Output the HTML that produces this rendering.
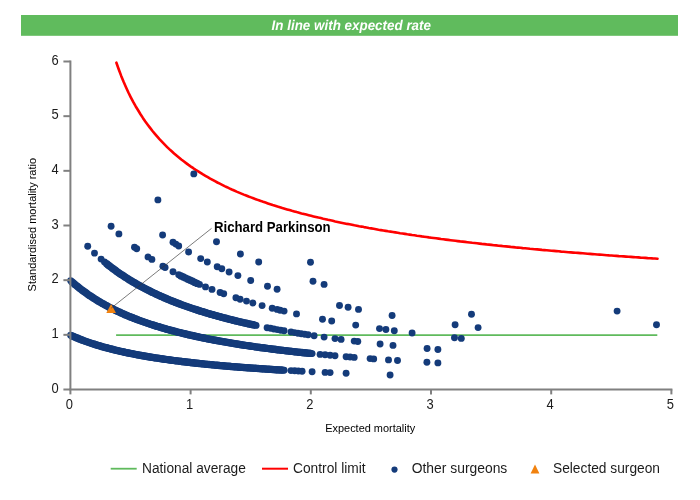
<!DOCTYPE html>
<html><head><meta charset="utf-8"><title>Funnel plot</title>
<style>
html,body{margin:0;padding:0;background:#fff;}
svg{display:block;font-family:"Liberation Sans",sans-serif;will-change:transform;}
</style></head><body>
<svg width="700" height="500" viewBox="0 0 700 500">
<rect x="0" y="0" width="700" height="500" fill="#fff"/>
<rect x="21" y="15" width="657" height="20.8" fill="#60bb5d"/>
<text x="271.6" y="29.5" textLength="159.4" lengthAdjust="spacingAndGlyphs" text-rendering="geometricPrecision" font-size="14" font-weight="bold" font-style="italic" fill="#fff">In line with expected rate</text>
<g font-size="14" fill="#1c1c1c"><text x="51.6" y="392.6" textLength="7.2" lengthAdjust="spacingAndGlyphs">0</text><text x="51.6" y="337.9" textLength="7.2" lengthAdjust="spacingAndGlyphs">1</text><text x="51.6" y="283.3" textLength="7.2" lengthAdjust="spacingAndGlyphs">2</text><text x="51.6" y="228.6" textLength="7.2" lengthAdjust="spacingAndGlyphs">3</text><text x="51.6" y="173.9" textLength="7.2" lengthAdjust="spacingAndGlyphs">4</text><text x="51.6" y="119.3" textLength="7.2" lengthAdjust="spacingAndGlyphs">5</text><text x="51.6" y="64.6" textLength="7.2" lengthAdjust="spacingAndGlyphs">6</text><text x="65.8" y="409.2" textLength="7.2" lengthAdjust="spacingAndGlyphs">0</text><text x="186.0" y="409.2" textLength="7.2" lengthAdjust="spacingAndGlyphs">1</text><text x="306.2" y="409.2" textLength="7.2" lengthAdjust="spacingAndGlyphs">2</text><text x="426.4" y="409.2" textLength="7.2" lengthAdjust="spacingAndGlyphs">3</text><text x="546.6" y="409.2" textLength="7.2" lengthAdjust="spacingAndGlyphs">4</text><text x="666.8" y="409.2" textLength="7.2" lengthAdjust="spacingAndGlyphs">5</text></g>
<g font-size="11" fill="#000">
<text x="325.2" y="431.6" textLength="90" lengthAdjust="spacingAndGlyphs" >Expected mortality</text>
<text transform="translate(36.3,291.4) rotate(-90)" textLength="133.4" lengthAdjust="spacingAndGlyphs">Standardised mortality ratio</text>
</g>
<line x1="116.1" y1="335.1" x2="657.3" y2="335.1" stroke="#5fba5c" stroke-width="1.8"/>
<path d="M116.4,62.7 L118.8,69.5 L121.2,75.9 L123.6,81.8 L126.0,87.3 L128.4,92.5 L130.8,97.3 L133.2,101.9 L135.6,106.2 L138.1,110.3 L140.5,114.2 L142.9,117.9 L145.3,121.4 L147.7,124.7 L150.1,127.9 L152.5,131.0 L154.9,133.9 L157.3,136.7 L159.7,139.4 L162.1,141.9 L164.5,144.4 L166.9,146.8 L169.3,149.1 L171.7,151.3 L174.1,153.5 L176.5,155.5 L178.9,157.5 L181.3,159.5 L183.7,161.3 L186.1,163.1 L188.5,164.9 L190.9,166.6 L193.3,168.2 L195.7,169.9 L198.2,171.4 L200.6,172.9 L203.0,174.4 L205.4,175.8 L207.8,177.2 L210.2,178.6 L212.6,179.9 L215.0,181.2 L217.4,182.5 L219.8,183.7 L222.2,184.9 L224.6,186.1 L227.0,187.2 L229.4,188.4 L231.8,189.5 L234.2,190.5 L236.6,191.6 L239.0,192.6 L241.4,193.6 L243.8,194.6 L246.2,195.5 L248.6,196.5 L251.0,197.4 L253.4,198.3 L255.8,199.2 L258.3,200.1 L260.7,200.9 L263.1,201.8 L265.5,202.6 L267.9,203.4 L270.3,204.2 L272.7,205.0 L275.1,205.7 L277.5,206.5 L279.9,207.2 L282.3,208.0 L284.7,208.7 L287.1,209.4 L289.5,210.1 L291.9,210.8 L294.3,211.4 L296.7,212.1 L299.1,212.7 L301.5,213.4 L303.9,214.0 L306.3,214.6 L308.7,215.2 L311.1,215.8 L313.5,216.4 L315.9,217.0 L318.4,217.6 L320.8,218.1 L323.2,218.7 L325.6,219.2 L328.0,219.8 L330.4,220.3 L332.8,220.8 L335.2,221.4 L337.6,221.9 L340.0,222.4 L342.4,222.9 L344.8,223.4 L347.2,223.9 L349.6,224.3 L352.0,224.8 L354.4,225.3 L356.8,225.7 L359.2,226.2 L361.6,226.6 L364.0,227.1 L366.4,227.5 L368.8,228.0 L371.2,228.4 L373.6,228.8 L376.0,229.2 L378.5,229.7 L380.9,230.1 L383.3,230.5 L385.7,230.9 L388.1,231.3 L390.5,231.6 L392.9,232.0 L395.3,232.4 L397.7,232.8 L400.1,233.2 L402.5,233.5 L404.9,233.9 L407.3,234.3 L409.7,234.6 L412.1,235.0 L414.5,235.3 L416.9,235.7 L419.3,236.0 L421.7,236.4 L424.1,236.7 L426.5,237.0 L428.9,237.4 L431.3,237.7 L433.7,238.0 L436.1,238.3 L438.6,238.6 L441.0,239.0 L443.4,239.3 L445.8,239.6 L448.2,239.9 L450.6,240.2 L453.0,240.5 L455.4,240.8 L457.8,241.1 L460.2,241.4 L462.6,241.6 L465.0,241.9 L467.4,242.2 L469.8,242.5 L472.2,242.8 L474.6,243.0 L477.0,243.3 L479.4,243.6 L481.8,243.9 L484.2,244.1 L486.6,244.4 L489.0,244.6 L491.4,244.9 L493.8,245.2 L496.2,245.4 L498.7,245.7 L501.1,245.9 L503.5,246.2 L505.9,246.4 L508.3,246.6 L510.7,246.9 L513.1,247.1 L515.5,247.4 L517.9,247.6 L520.3,247.8 L522.7,248.1 L525.1,248.3 L527.5,248.5 L529.9,248.8 L532.3,249.0 L534.7,249.2 L537.1,249.4 L539.5,249.6 L541.9,249.9 L544.3,250.1 L546.7,250.3 L549.1,250.5 L551.5,250.7 L553.9,250.9 L556.3,251.1 L558.8,251.3 L561.2,251.6 L563.6,251.8 L566.0,252.0 L568.4,252.2 L570.8,252.4 L573.2,252.6 L575.6,252.8 L578.0,252.9 L580.4,253.1 L582.8,253.3 L585.2,253.5 L587.6,253.7 L590.0,253.9 L592.4,254.1 L594.8,254.3 L597.2,254.5 L599.6,254.6 L602.0,254.8 L604.4,255.0 L606.8,255.2 L609.2,255.4 L611.6,255.5 L614.0,255.7 L616.4,255.9 L618.9,256.1 L621.3,256.2 L623.7,256.4 L626.1,256.6 L628.5,256.8 L630.9,256.9 L633.3,257.1 L635.7,257.3 L638.1,257.4 L640.5,257.6 L642.9,257.7 L645.3,257.9 L647.7,258.1 L650.1,258.2 L652.5,258.4 L654.9,258.5 L657.5,258.7" stroke="#ff0000" stroke-width="2.6" fill="none" stroke-linejoin="round" stroke-linecap="round"/>
<g fill="#143b7a"><circle cx="70.6" cy="335.2" r="3.45"/><circle cx="72.0" cy="335.9" r="3.7"/><circle cx="73.5" cy="336.5" r="3.7"/><circle cx="74.9" cy="337.1" r="3.7"/><circle cx="76.4" cy="337.7" r="3.7"/><circle cx="77.8" cy="338.3" r="3.7"/><circle cx="79.3" cy="338.9" r="3.7"/><circle cx="80.7" cy="339.5" r="3.7"/><circle cx="82.1" cy="340.0" r="3.7"/><circle cx="83.6" cy="340.6" r="3.7"/><circle cx="85.0" cy="341.1" r="3.7"/><circle cx="86.5" cy="341.6" r="3.7"/><circle cx="87.9" cy="342.1" r="3.7"/><circle cx="89.4" cy="342.6" r="3.7"/><circle cx="90.8" cy="343.1" r="3.7"/><circle cx="92.2" cy="343.6" r="3.7"/><circle cx="93.7" cy="344.0" r="3.7"/><circle cx="95.1" cy="344.5" r="3.7"/><circle cx="96.6" cy="344.9" r="3.7"/><circle cx="98.0" cy="345.4" r="3.7"/><circle cx="99.4" cy="345.8" r="3.7"/><circle cx="100.9" cy="346.2" r="3.7"/><circle cx="102.3" cy="346.7" r="3.7"/><circle cx="103.8" cy="347.1" r="3.7"/><circle cx="105.2" cy="347.5" r="3.7"/><circle cx="106.7" cy="347.8" r="3.7"/><circle cx="108.1" cy="348.2" r="3.7"/><circle cx="109.5" cy="348.6" r="3.7"/><circle cx="111.0" cy="349.0" r="3.7"/><circle cx="112.4" cy="349.3" r="3.7"/><circle cx="113.9" cy="349.7" r="3.7"/><circle cx="115.3" cy="350.1" r="3.7"/><circle cx="116.8" cy="350.4" r="3.7"/><circle cx="118.2" cy="350.7" r="3.7"/><circle cx="119.6" cy="351.1" r="3.7"/><circle cx="121.1" cy="351.4" r="3.7"/><circle cx="122.5" cy="351.7" r="3.7"/><circle cx="124.0" cy="352.0" r="3.7"/><circle cx="125.4" cy="352.4" r="3.7"/><circle cx="126.9" cy="352.7" r="3.7"/><circle cx="128.3" cy="353.0" r="3.7"/><circle cx="129.7" cy="353.3" r="3.7"/><circle cx="131.2" cy="353.6" r="3.7"/><circle cx="132.6" cy="353.8" r="3.7"/><circle cx="134.1" cy="354.1" r="3.7"/><circle cx="135.5" cy="354.4" r="3.7"/><circle cx="137.0" cy="354.7" r="3.7"/><circle cx="138.4" cy="354.9" r="3.7"/><circle cx="139.8" cy="355.2" r="3.7"/><circle cx="141.3" cy="355.5" r="3.7"/><circle cx="142.7" cy="355.7" r="3.7"/><circle cx="144.2" cy="356.0" r="3.7"/><circle cx="145.6" cy="356.2" r="3.7"/><circle cx="147.0" cy="356.5" r="3.7"/><circle cx="148.5" cy="356.7" r="3.7"/><circle cx="149.9" cy="357.0" r="3.7"/><circle cx="151.4" cy="357.2" r="3.7"/><circle cx="152.8" cy="357.4" r="3.7"/><circle cx="154.3" cy="357.7" r="3.7"/><circle cx="155.7" cy="357.9" r="3.7"/><circle cx="157.1" cy="358.1" r="3.7"/><circle cx="158.6" cy="358.3" r="3.7"/><circle cx="160.0" cy="358.6" r="3.7"/><circle cx="161.5" cy="358.8" r="3.7"/><circle cx="162.9" cy="359.0" r="3.7"/><circle cx="164.4" cy="359.2" r="3.7"/><circle cx="165.8" cy="359.4" r="3.7"/><circle cx="167.2" cy="359.6" r="3.7"/><circle cx="168.7" cy="359.8" r="3.7"/><circle cx="170.1" cy="360.0" r="3.7"/><circle cx="171.6" cy="360.2" r="3.7"/><circle cx="173.0" cy="360.4" r="3.7"/><circle cx="174.5" cy="360.6" r="3.7"/><circle cx="175.9" cy="360.8" r="3.7"/><circle cx="177.3" cy="360.9" r="3.7"/><circle cx="178.8" cy="361.1" r="3.7"/><circle cx="180.2" cy="361.3" r="3.7"/><circle cx="181.7" cy="361.5" r="3.7"/><circle cx="183.1" cy="361.7" r="3.7"/><circle cx="184.5" cy="361.8" r="3.7"/><circle cx="186.0" cy="362.0" r="3.7"/><circle cx="187.4" cy="362.2" r="3.7"/><circle cx="188.9" cy="362.3" r="3.7"/><circle cx="190.3" cy="362.5" r="3.7"/><circle cx="191.8" cy="362.7" r="3.7"/><circle cx="193.2" cy="362.8" r="3.7"/><circle cx="194.6" cy="363.0" r="3.7"/><circle cx="196.1" cy="363.2" r="3.7"/><circle cx="197.5" cy="363.3" r="3.7"/><circle cx="199.0" cy="363.5" r="3.7"/><circle cx="200.4" cy="363.6" r="3.7"/><circle cx="201.9" cy="363.8" r="3.7"/><circle cx="203.3" cy="363.9" r="3.7"/><circle cx="204.7" cy="364.1" r="3.7"/><circle cx="206.2" cy="364.2" r="3.7"/><circle cx="207.6" cy="364.4" r="3.7"/><circle cx="209.1" cy="364.5" r="3.7"/><circle cx="210.5" cy="364.6" r="3.7"/><circle cx="212.0" cy="364.8" r="3.7"/><circle cx="213.4" cy="364.9" r="3.7"/><circle cx="214.8" cy="365.1" r="3.7"/><circle cx="216.3" cy="365.2" r="3.7"/><circle cx="217.7" cy="365.3" r="3.7"/><circle cx="219.2" cy="365.5" r="3.7"/><circle cx="220.6" cy="365.6" r="3.7"/><circle cx="222.1" cy="365.7" r="3.7"/><circle cx="223.5" cy="365.8" r="3.7"/><circle cx="224.9" cy="366.0" r="3.7"/><circle cx="226.4" cy="366.1" r="3.7"/><circle cx="227.8" cy="366.2" r="3.7"/><circle cx="229.3" cy="366.3" r="3.7"/><circle cx="230.7" cy="366.5" r="3.7"/><circle cx="232.1" cy="366.6" r="3.7"/><circle cx="233.6" cy="366.7" r="3.7"/><circle cx="235.0" cy="366.8" r="3.7"/><circle cx="236.5" cy="366.9" r="3.7"/><circle cx="237.9" cy="367.0" r="3.7"/><circle cx="239.4" cy="367.2" r="3.7"/><circle cx="240.8" cy="367.3" r="3.7"/><circle cx="242.2" cy="367.4" r="3.7"/><circle cx="243.7" cy="367.5" r="3.7"/><circle cx="245.1" cy="367.6" r="3.7"/><circle cx="246.6" cy="367.7" r="3.7"/><circle cx="248.0" cy="367.8" r="3.7"/><circle cx="249.5" cy="367.9" r="3.7"/><circle cx="250.9" cy="368.0" r="3.7"/><circle cx="252.3" cy="368.1" r="3.7"/><circle cx="253.8" cy="368.2" r="3.7"/><circle cx="255.2" cy="368.3" r="3.7"/><circle cx="256.7" cy="368.4" r="3.7"/><circle cx="258.1" cy="368.5" r="3.7"/><circle cx="259.6" cy="368.6" r="3.7"/><circle cx="261.0" cy="368.7" r="3.7"/><circle cx="262.4" cy="368.8" r="3.7"/><circle cx="263.9" cy="368.9" r="3.7"/><circle cx="265.3" cy="369.0" r="3.7"/><circle cx="266.8" cy="369.1" r="3.7"/><circle cx="268.2" cy="369.2" r="3.7"/><circle cx="269.7" cy="369.3" r="3.7"/><circle cx="271.1" cy="369.4" r="3.7"/><circle cx="272.5" cy="369.5" r="3.7"/><circle cx="274.0" cy="369.6" r="3.7"/><circle cx="275.4" cy="369.7" r="3.7"/><circle cx="276.9" cy="369.8" r="3.7"/><circle cx="278.3" cy="369.9" r="3.7"/><circle cx="279.7" cy="369.9" r="3.7"/><circle cx="281.2" cy="370.0" r="3.7"/><circle cx="282.6" cy="370.1" r="3.7"/><circle cx="284.1" cy="370.2" r="3.45"/><circle cx="291.0" cy="370.6" r="3.45"/><circle cx="294.7" cy="370.8" r="3.45"/><circle cx="298.4" cy="371.0" r="3.45"/><circle cx="302.1" cy="371.2" r="3.45"/><circle cx="312.1" cy="371.7" r="3.45"/><circle cx="325.1" cy="372.4" r="3.45"/><circle cx="330.1" cy="372.6" r="3.45"/><circle cx="346.1" cy="373.3" r="3.45"/><circle cx="390.1" cy="375.0" r="3.45"/><circle cx="70.6" cy="280.6" r="3.45"/><circle cx="72.0" cy="281.9" r="3.7"/><circle cx="73.5" cy="283.1" r="3.7"/><circle cx="74.9" cy="284.4" r="3.7"/><circle cx="76.4" cy="285.6" r="3.7"/><circle cx="77.8" cy="286.8" r="3.7"/><circle cx="79.3" cy="287.9" r="3.7"/><circle cx="80.7" cy="289.1" r="3.7"/><circle cx="82.2" cy="290.2" r="3.7"/><circle cx="83.6" cy="291.2" r="3.7"/><circle cx="85.1" cy="292.3" r="3.7"/><circle cx="86.5" cy="293.3" r="3.7"/><circle cx="88.0" cy="294.4" r="3.7"/><circle cx="89.4" cy="295.4" r="3.7"/><circle cx="90.8" cy="296.3" r="3.7"/><circle cx="92.3" cy="297.3" r="3.7"/><circle cx="93.7" cy="298.2" r="3.7"/><circle cx="95.2" cy="299.1" r="3.7"/><circle cx="96.6" cy="300.0" r="3.7"/><circle cx="98.1" cy="300.9" r="3.7"/><circle cx="99.5" cy="301.8" r="3.7"/><circle cx="101.0" cy="302.6" r="3.7"/><circle cx="102.4" cy="303.4" r="3.7"/><circle cx="103.9" cy="304.3" r="3.7"/><circle cx="105.3" cy="305.1" r="3.7"/><circle cx="106.7" cy="305.8" r="3.7"/><circle cx="108.2" cy="306.6" r="3.7"/><circle cx="109.6" cy="307.4" r="3.7"/><circle cx="111.1" cy="308.1" r="3.7"/><circle cx="112.5" cy="308.8" r="3.7"/><circle cx="114.0" cy="309.6" r="3.7"/><circle cx="115.4" cy="310.3" r="3.7"/><circle cx="116.9" cy="311.0" r="3.7"/><circle cx="118.3" cy="311.6" r="3.7"/><circle cx="119.8" cy="312.3" r="3.7"/><circle cx="121.2" cy="313.0" r="3.7"/><circle cx="122.7" cy="313.6" r="3.7"/><circle cx="124.1" cy="314.2" r="3.7"/><circle cx="125.5" cy="314.9" r="3.7"/><circle cx="127.0" cy="315.5" r="3.7"/><circle cx="128.4" cy="316.1" r="3.7"/><circle cx="129.9" cy="316.7" r="3.7"/><circle cx="131.3" cy="317.3" r="3.7"/><circle cx="132.8" cy="317.8" r="3.7"/><circle cx="134.2" cy="318.4" r="3.7"/><circle cx="135.7" cy="319.0" r="3.7"/><circle cx="137.1" cy="319.5" r="3.7"/><circle cx="138.6" cy="320.1" r="3.7"/><circle cx="140.0" cy="320.6" r="3.7"/><circle cx="141.5" cy="321.1" r="3.7"/><circle cx="142.9" cy="321.6" r="3.7"/><circle cx="144.3" cy="322.1" r="3.7"/><circle cx="145.8" cy="322.6" r="3.7"/><circle cx="147.2" cy="323.1" r="3.7"/><circle cx="148.7" cy="323.6" r="3.7"/><circle cx="150.1" cy="324.1" r="3.7"/><circle cx="151.6" cy="324.6" r="3.7"/><circle cx="153.0" cy="325.0" r="3.7"/><circle cx="154.5" cy="325.5" r="3.7"/><circle cx="155.9" cy="326.0" r="3.7"/><circle cx="157.4" cy="326.4" r="3.7"/><circle cx="158.8" cy="326.8" r="3.7"/><circle cx="160.3" cy="327.3" r="3.7"/><circle cx="161.7" cy="327.7" r="3.7"/><circle cx="163.1" cy="328.1" r="3.7"/><circle cx="164.6" cy="328.5" r="3.7"/><circle cx="166.0" cy="329.0" r="3.7"/><circle cx="167.5" cy="329.4" r="3.7"/><circle cx="168.9" cy="329.8" r="3.7"/><circle cx="170.4" cy="330.2" r="3.7"/><circle cx="171.8" cy="330.5" r="3.7"/><circle cx="173.3" cy="330.9" r="3.7"/><circle cx="174.7" cy="331.3" r="3.7"/><circle cx="176.2" cy="331.7" r="3.7"/><circle cx="177.6" cy="332.1" r="3.7"/><circle cx="179.0" cy="332.4" r="3.7"/><circle cx="180.5" cy="332.8" r="3.7"/><circle cx="181.9" cy="333.1" r="3.7"/><circle cx="183.4" cy="333.5" r="3.7"/><circle cx="184.8" cy="333.8" r="3.7"/><circle cx="186.3" cy="334.2" r="3.7"/><circle cx="187.7" cy="334.5" r="3.7"/><circle cx="189.2" cy="334.9" r="3.7"/><circle cx="190.6" cy="335.2" r="3.7"/><circle cx="192.1" cy="335.5" r="3.7"/><circle cx="193.5" cy="335.8" r="3.7"/><circle cx="195.0" cy="336.2" r="3.7"/><circle cx="196.4" cy="336.5" r="3.7"/><circle cx="197.8" cy="336.8" r="3.7"/><circle cx="199.3" cy="337.1" r="3.7"/><circle cx="200.7" cy="337.4" r="3.7"/><circle cx="202.2" cy="337.7" r="3.7"/><circle cx="203.6" cy="338.0" r="3.7"/><circle cx="205.1" cy="338.3" r="3.7"/><circle cx="206.5" cy="338.6" r="3.7"/><circle cx="208.0" cy="338.9" r="3.7"/><circle cx="209.4" cy="339.2" r="3.7"/><circle cx="210.9" cy="339.4" r="3.7"/><circle cx="212.3" cy="339.7" r="3.7"/><circle cx="213.8" cy="340.0" r="3.7"/><circle cx="215.2" cy="340.3" r="3.7"/><circle cx="216.6" cy="340.5" r="3.7"/><circle cx="218.1" cy="340.8" r="3.7"/><circle cx="219.5" cy="341.1" r="3.7"/><circle cx="221.0" cy="341.3" r="3.7"/><circle cx="222.4" cy="341.6" r="3.7"/><circle cx="223.9" cy="341.8" r="3.7"/><circle cx="225.3" cy="342.1" r="3.7"/><circle cx="226.8" cy="342.3" r="3.7"/><circle cx="228.2" cy="342.6" r="3.7"/><circle cx="229.7" cy="342.8" r="3.7"/><circle cx="231.1" cy="343.1" r="3.7"/><circle cx="232.6" cy="343.3" r="3.7"/><circle cx="234.0" cy="343.6" r="3.7"/><circle cx="235.4" cy="343.8" r="3.7"/><circle cx="236.9" cy="344.0" r="3.7"/><circle cx="238.3" cy="344.3" r="3.7"/><circle cx="239.8" cy="344.5" r="3.7"/><circle cx="241.2" cy="344.7" r="3.7"/><circle cx="242.7" cy="344.9" r="3.7"/><circle cx="244.1" cy="345.2" r="3.7"/><circle cx="245.6" cy="345.4" r="3.7"/><circle cx="247.0" cy="345.6" r="3.7"/><circle cx="248.5" cy="345.8" r="3.7"/><circle cx="249.9" cy="346.0" r="3.7"/><circle cx="251.3" cy="346.2" r="3.7"/><circle cx="252.8" cy="346.4" r="3.7"/><circle cx="254.2" cy="346.6" r="3.7"/><circle cx="255.7" cy="346.9" r="3.7"/><circle cx="257.1" cy="347.1" r="3.7"/><circle cx="258.6" cy="347.3" r="3.7"/><circle cx="260.0" cy="347.5" r="3.7"/><circle cx="261.5" cy="347.7" r="3.7"/><circle cx="262.9" cy="347.8" r="3.7"/><circle cx="264.4" cy="348.0" r="3.7"/><circle cx="265.8" cy="348.2" r="3.7"/><circle cx="267.3" cy="348.4" r="3.7"/><circle cx="268.7" cy="348.6" r="3.7"/><circle cx="270.1" cy="348.8" r="3.7"/><circle cx="271.6" cy="349.0" r="3.7"/><circle cx="273.0" cy="349.2" r="3.7"/><circle cx="274.5" cy="349.3" r="3.7"/><circle cx="275.9" cy="349.5" r="3.7"/><circle cx="277.4" cy="349.7" r="3.7"/><circle cx="278.8" cy="349.9" r="3.7"/><circle cx="280.3" cy="350.1" r="3.7"/><circle cx="281.7" cy="350.2" r="3.7"/><circle cx="283.2" cy="350.4" r="3.7"/><circle cx="284.6" cy="350.6" r="3.7"/><circle cx="286.1" cy="350.7" r="3.7"/><circle cx="287.5" cy="350.9" r="3.7"/><circle cx="288.9" cy="351.1" r="3.7"/><circle cx="290.4" cy="351.2" r="3.7"/><circle cx="291.8" cy="351.4" r="3.7"/><circle cx="293.3" cy="351.6" r="3.7"/><circle cx="294.7" cy="351.7" r="3.7"/><circle cx="296.2" cy="351.9" r="3.7"/><circle cx="297.6" cy="352.1" r="3.7"/><circle cx="299.1" cy="352.2" r="3.7"/><circle cx="300.5" cy="352.4" r="3.7"/><circle cx="302.0" cy="352.5" r="3.7"/><circle cx="303.4" cy="352.7" r="3.7"/><circle cx="304.9" cy="352.8" r="3.7"/><circle cx="306.3" cy="353.0" r="3.7"/><circle cx="307.7" cy="353.1" r="3.7"/><circle cx="309.2" cy="353.3" r="3.7"/><circle cx="310.6" cy="353.4" r="3.7"/><circle cx="312.1" cy="353.6" r="3.45"/><circle cx="320.1" cy="354.4" r="3.45"/><circle cx="325.1" cy="354.8" r="3.45"/><circle cx="330.1" cy="355.3" r="3.45"/><circle cx="335.0" cy="355.7" r="3.45"/><circle cx="346.1" cy="356.7" r="3.45"/><circle cx="350.1" cy="357.0" r="3.45"/><circle cx="354.2" cy="357.4" r="3.45"/><circle cx="370.1" cy="358.6" r="3.45"/><circle cx="373.7" cy="358.9" r="3.45"/><circle cx="388.5" cy="359.9" r="3.45"/><circle cx="397.5" cy="360.5" r="3.45"/><circle cx="426.9" cy="362.3" r="3.45"/><circle cx="437.9" cy="362.9" r="3.45"/><circle cx="87.7" cy="246.3" r="3.45"/><circle cx="94.5" cy="253.1" r="3.45"/><circle cx="101.1" cy="259.1" r="3.45"/><circle cx="104.5" cy="262.0" r="3.45"/><circle cx="106.7" cy="263.7" r="3.7"/><circle cx="108.1" cy="264.9" r="3.7"/><circle cx="109.5" cy="266.0" r="3.7"/><circle cx="111.0" cy="267.1" r="3.7"/><circle cx="112.4" cy="268.2" r="3.7"/><circle cx="113.8" cy="269.3" r="3.7"/><circle cx="115.3" cy="270.3" r="3.7"/><circle cx="116.7" cy="271.4" r="3.7"/><circle cx="118.2" cy="272.4" r="3.7"/><circle cx="119.6" cy="273.4" r="3.7"/><circle cx="121.0" cy="274.4" r="3.7"/><circle cx="122.5" cy="275.3" r="3.7"/><circle cx="123.9" cy="276.3" r="3.7"/><circle cx="125.3" cy="277.2" r="3.7"/><circle cx="126.8" cy="278.1" r="3.7"/><circle cx="128.2" cy="279.0" r="3.7"/><circle cx="129.6" cy="279.9" r="3.7"/><circle cx="131.1" cy="280.8" r="3.7"/><circle cx="132.5" cy="281.7" r="3.7"/><circle cx="134.0" cy="282.5" r="3.7"/><circle cx="135.4" cy="283.3" r="3.7"/><circle cx="136.8" cy="284.2" r="3.7"/><circle cx="138.3" cy="285.0" r="3.7"/><circle cx="139.7" cy="285.8" r="3.7"/><circle cx="141.1" cy="286.6" r="3.7"/><circle cx="142.6" cy="287.3" r="3.7"/><circle cx="144.0" cy="288.1" r="3.7"/><circle cx="145.4" cy="288.8" r="3.7"/><circle cx="146.9" cy="289.6" r="3.7"/><circle cx="148.3" cy="290.3" r="3.7"/><circle cx="149.8" cy="291.0" r="3.7"/><circle cx="151.2" cy="291.7" r="3.7"/><circle cx="152.6" cy="292.4" r="3.7"/><circle cx="154.1" cy="293.1" r="3.7"/><circle cx="155.5" cy="293.8" r="3.7"/><circle cx="156.9" cy="294.5" r="3.7"/><circle cx="158.4" cy="295.1" r="3.7"/><circle cx="159.8" cy="295.8" r="3.7"/><circle cx="161.3" cy="296.4" r="3.7"/><circle cx="162.7" cy="297.0" r="3.7"/><circle cx="164.1" cy="297.7" r="3.7"/><circle cx="165.6" cy="298.3" r="3.7"/><circle cx="167.0" cy="298.9" r="3.7"/><circle cx="168.4" cy="299.5" r="3.7"/><circle cx="169.9" cy="300.1" r="3.7"/><circle cx="171.3" cy="300.7" r="3.7"/><circle cx="172.7" cy="301.2" r="3.7"/><circle cx="174.2" cy="301.8" r="3.7"/><circle cx="175.6" cy="302.4" r="3.7"/><circle cx="177.1" cy="302.9" r="3.7"/><circle cx="178.5" cy="303.5" r="3.7"/><circle cx="179.9" cy="304.0" r="3.7"/><circle cx="181.4" cy="304.6" r="3.7"/><circle cx="182.8" cy="305.1" r="3.7"/><circle cx="184.2" cy="305.6" r="3.7"/><circle cx="185.7" cy="306.1" r="3.7"/><circle cx="187.1" cy="306.6" r="3.7"/><circle cx="188.5" cy="307.1" r="3.7"/><circle cx="190.0" cy="307.6" r="3.7"/><circle cx="191.4" cy="308.1" r="3.7"/><circle cx="192.9" cy="308.6" r="3.7"/><circle cx="194.3" cy="309.1" r="3.7"/><circle cx="195.7" cy="309.5" r="3.7"/><circle cx="197.2" cy="310.0" r="3.7"/><circle cx="198.6" cy="310.5" r="3.7"/><circle cx="200.0" cy="310.9" r="3.7"/><circle cx="201.5" cy="311.4" r="3.7"/><circle cx="202.9" cy="311.8" r="3.7"/><circle cx="204.4" cy="312.3" r="3.7"/><circle cx="205.8" cy="312.7" r="3.7"/><circle cx="207.2" cy="313.1" r="3.7"/><circle cx="208.7" cy="313.6" r="3.7"/><circle cx="210.1" cy="314.0" r="3.7"/><circle cx="211.5" cy="314.4" r="3.7"/><circle cx="213.0" cy="314.8" r="3.7"/><circle cx="214.4" cy="315.2" r="3.7"/><circle cx="215.8" cy="315.6" r="3.7"/><circle cx="217.3" cy="316.0" r="3.7"/><circle cx="218.7" cy="316.4" r="3.7"/><circle cx="220.2" cy="316.8" r="3.7"/><circle cx="221.6" cy="317.2" r="3.7"/><circle cx="223.0" cy="317.6" r="3.7"/><circle cx="224.5" cy="318.0" r="3.7"/><circle cx="225.9" cy="318.3" r="3.7"/><circle cx="227.3" cy="318.7" r="3.7"/><circle cx="228.8" cy="319.1" r="3.7"/><circle cx="230.2" cy="319.4" r="3.7"/><circle cx="231.6" cy="319.8" r="3.7"/><circle cx="233.1" cy="320.2" r="3.7"/><circle cx="234.5" cy="320.5" r="3.7"/><circle cx="236.0" cy="320.9" r="3.7"/><circle cx="237.4" cy="321.2" r="3.7"/><circle cx="238.8" cy="321.6" r="3.7"/><circle cx="240.3" cy="321.9" r="3.7"/><circle cx="241.7" cy="322.2" r="3.7"/><circle cx="243.1" cy="322.6" r="3.7"/><circle cx="244.6" cy="322.9" r="3.7"/><circle cx="246.0" cy="323.2" r="3.7"/><circle cx="247.4" cy="323.5" r="3.7"/><circle cx="248.9" cy="323.9" r="3.7"/><circle cx="250.3" cy="324.2" r="3.7"/><circle cx="251.8" cy="324.5" r="3.7"/><circle cx="253.2" cy="324.8" r="3.7"/><circle cx="254.6" cy="325.1" r="3.7"/><circle cx="256.1" cy="325.4" r="3.45"/><circle cx="267.1" cy="327.7" r="3.45"/><circle cx="270.5" cy="328.3" r="3.45"/><circle cx="273.9" cy="329.0" r="3.45"/><circle cx="277.3" cy="329.6" r="3.45"/><circle cx="280.7" cy="330.2" r="3.45"/><circle cx="284.1" cy="330.8" r="3.45"/><circle cx="291.0" cy="332.0" r="3.45"/><circle cx="294.5" cy="332.6" r="3.45"/><circle cx="297.9" cy="333.2" r="3.45"/><circle cx="301.3" cy="333.7" r="3.45"/><circle cx="304.7" cy="334.3" r="3.45"/><circle cx="308.1" cy="334.8" r="3.45"/><circle cx="314.1" cy="335.7" r="3.45"/><circle cx="324.1" cy="337.1" r="3.45"/><circle cx="335.0" cy="338.6" r="3.45"/><circle cx="341.1" cy="339.4" r="3.45"/><circle cx="354.2" cy="341.1" r="3.45"/><circle cx="357.8" cy="341.5" r="3.45"/><circle cx="380.1" cy="344.0" r="3.45"/><circle cx="393.0" cy="345.4" r="3.45"/><circle cx="427.1" cy="348.5" r="3.45"/><circle cx="437.9" cy="349.5" r="3.45"/><circle cx="111.1" cy="226.3" r="3.45"/><circle cx="118.9" cy="233.9" r="3.45"/><circle cx="134.5" cy="247.2" r="3.45"/><circle cx="136.7" cy="248.8" r="3.45"/><circle cx="148.0" cy="256.9" r="3.45"/><circle cx="151.9" cy="259.4" r="3.45"/><circle cx="162.9" cy="266.2" r="3.45"/><circle cx="165.1" cy="267.5" r="3.45"/><circle cx="173.0" cy="271.8" r="3.45"/><circle cx="178.7" cy="274.8" r="3.45"/><circle cx="181.0" cy="275.9" r="3.7"/><circle cx="183.3" cy="277.0" r="3.7"/><circle cx="185.6" cy="278.1" r="3.7"/><circle cx="187.9" cy="279.2" r="3.7"/><circle cx="190.2" cy="280.3" r="3.7"/><circle cx="192.5" cy="281.3" r="3.7"/><circle cx="194.8" cy="282.4" r="3.7"/><circle cx="197.1" cy="283.4" r="3.7"/><circle cx="199.5" cy="284.4" r="3.45"/><circle cx="205.5" cy="286.9" r="3.45"/><circle cx="212.0" cy="289.4" r="3.45"/><circle cx="220.1" cy="292.5" r="3.45"/><circle cx="223.7" cy="293.7" r="3.45"/><circle cx="235.9" cy="297.8" r="3.45"/><circle cx="240.1" cy="299.2" r="3.45"/><circle cx="246.5" cy="301.1" r="3.45"/><circle cx="252.9" cy="303.0" r="3.45"/><circle cx="262.1" cy="305.6" r="3.45"/><circle cx="272.2" cy="308.2" r="3.45"/><circle cx="277.1" cy="309.4" r="3.45"/><circle cx="280.1" cy="310.2" r="3.45"/><circle cx="284.1" cy="311.1" r="3.45"/><circle cx="296.5" cy="313.9" r="3.45"/><circle cx="322.5" cy="319.3" r="3.45"/><circle cx="331.7" cy="321.0" r="3.45"/><circle cx="355.7" cy="325.1" r="3.45"/><circle cx="379.5" cy="328.6" r="3.45"/><circle cx="385.9" cy="329.5" r="3.45"/><circle cx="394.3" cy="330.7" r="3.45"/><circle cx="412.1" cy="333.0" r="3.45"/><circle cx="454.5" cy="337.8" r="3.45"/><circle cx="461.3" cy="338.4" r="3.45"/><circle cx="162.6" cy="235.0" r="3.45"/><circle cx="173.0" cy="242.3" r="3.45"/><circle cx="175.8" cy="244.1" r="3.45"/><circle cx="178.7" cy="246.0" r="3.45"/><circle cx="188.6" cy="252.0" r="3.45"/><circle cx="200.7" cy="258.6" r="3.45"/><circle cx="207.3" cy="262.0" r="3.45"/><circle cx="217.2" cy="266.8" r="3.45"/><circle cx="221.8" cy="268.8" r="3.45"/><circle cx="229.1" cy="272.0" r="3.45"/><circle cx="237.9" cy="275.6" r="3.45"/><circle cx="250.7" cy="280.5" r="3.45"/><circle cx="267.5" cy="286.3" r="3.45"/><circle cx="277.1" cy="289.3" r="3.45"/><circle cx="339.5" cy="305.5" r="3.45"/><circle cx="348.1" cy="307.3" r="3.45"/><circle cx="358.5" cy="309.4" r="3.45"/><circle cx="392.1" cy="315.5" r="3.45"/><circle cx="455.1" cy="324.8" r="3.45"/><circle cx="478.1" cy="327.6" r="3.45"/><circle cx="157.9" cy="199.9" r="3.45"/><circle cx="216.5" cy="241.8" r="3.45"/><circle cx="240.4" cy="254.0" r="3.45"/><circle cx="258.7" cy="262.0" r="3.45"/><circle cx="313.0" cy="281.2" r="3.45"/><circle cx="324.1" cy="284.4" r="3.45"/><circle cx="471.5" cy="314.2" r="3.45"/><circle cx="310.5" cy="262.2" r="3.45"/><circle cx="656.5" cy="324.8" r="3.45"/><circle cx="193.8" cy="173.9" r="3.45"/><circle cx="617.1" cy="311.1" r="3.45"/></g>
<g stroke="#808080" stroke-width="2" fill="none" stroke-linecap="butt">
<line x1="70.4" y1="60.5" x2="70.4" y2="389.5"/>
<line x1="69.4" y1="389.5" x2="672.4" y2="389.5"/>
<line x1="63.4" y1="389.50" x2="70.4" y2="389.50"/><line x1="63.4" y1="334.83" x2="70.4" y2="334.83"/><line x1="63.4" y1="280.17" x2="70.4" y2="280.17"/><line x1="63.4" y1="225.50" x2="70.4" y2="225.50"/><line x1="63.4" y1="170.83" x2="70.4" y2="170.83"/><line x1="63.4" y1="116.17" x2="70.4" y2="116.17"/><line x1="63.4" y1="61.50" x2="70.4" y2="61.50"/><line x1="70.40" y1="389.5" x2="70.40" y2="394.4"/><line x1="190.60" y1="389.5" x2="190.60" y2="394.4"/><line x1="310.80" y1="389.5" x2="310.80" y2="394.4"/><line x1="431.00" y1="389.5" x2="431.00" y2="394.4"/><line x1="551.20" y1="389.5" x2="551.20" y2="394.4"/><line x1="671.40" y1="389.5" x2="671.40" y2="394.4"/>
</g>
<path d="M111.1,303.9 L116,312.9 L106.3,312.9 Z" fill="#f1820f"/>
<line x1="111.3" y1="308" x2="211.5" y2="228.4" stroke="#333" stroke-width="0.65"/>
<text x="214" y="231.5" textLength="116.6" lengthAdjust="spacingAndGlyphs" font-size="14" font-weight="bold" fill="#000">Richard Parkinson</text>
<g font-size="14" fill="#1c1c1c">
<line x1="110.7" y1="468.7" x2="136.7" y2="468.7" stroke="#5fba5c" stroke-width="1.8"/>
<text x="142" y="473" textLength="103.8" lengthAdjust="spacingAndGlyphs" >National average</text>
<line x1="262" y1="468.7" x2="288" y2="468.7" stroke="#ff0000" stroke-width="2"/>
<text x="293" y="473" textLength="72.6" lengthAdjust="spacingAndGlyphs" >Control limit</text>
<circle cx="394.5" cy="469.6" r="3.1" fill="#143b7a"/>
<text x="411.7" y="473" textLength="95.6" lengthAdjust="spacingAndGlyphs" >Other surgeons</text>
<path d="M535,464.5 L539.4,473.5 L530.6,473.5 Z" fill="#f1820f"/>
<text x="553" y="473" textLength="107" lengthAdjust="spacingAndGlyphs" >Selected surgeon</text>
</g>
</svg>
</body></html>
